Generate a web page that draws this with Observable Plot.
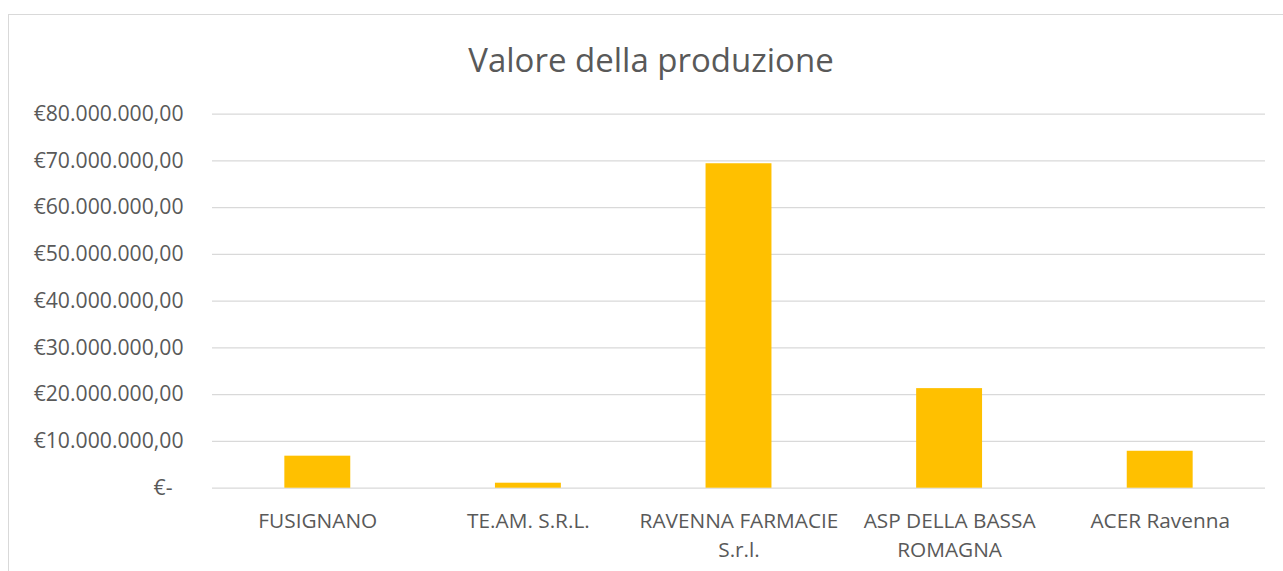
<!DOCTYPE html>
<html>
<head>
<meta charset="utf-8">
<script src="https://cdn.jsdelivr.net/npm/d3@7"></script>
<script src="https://cdn.jsdelivr.net/npm/@observablehq/plot@0.6"></script>
<style>
  html, body { margin: 0; padding: 0; background: #fff; }
  body { width: 1283px; height: 571px; position: relative; overflow: hidden; font-family: "Open Sans", sans-serif; }
  #frame { position: absolute; left: 8px; top: 14px; width: 1400px; height: 700px; border-left: 1.5px solid #d9d9d9; border-top: 1.5px solid #d9d9d9; box-sizing: border-box; }
  #title { position: absolute; left: 351px; width: 600px; top: 42.5px; text-align: center; font-size: 33px; line-height: 33px; color: #595959; white-space: nowrap; }
  #chart { position: absolute; left: 0; top: 0; }
</style>
</head>
<body>
<div id="frame"></div>
<div id="chart"></div>
<div id="title">Valore della produzione</div>
<script>
const categories = ["FUSIGNANO", "TE.AM. S.R.L.", "RAVENNA FARMACIE S.r.l.", "ASP DELLA BASSA ROMAGNA", "ACER Ravenna"];
const values = [6850000, 1070000, 69400000, 21300000, 7900000];
const yTicks = [0, 10000000, 20000000, 30000000, 40000000, 50000000, 60000000, 70000000, 80000000];

const data = categories.map((c, i) => ({category: c, value: values[i]}));

const locale = d3.formatLocale({decimal: ",", thousands: ".", grouping: [3], currency: ["€", ""]});
const fmt = locale.format("$,.2f");
const yFormat = d => d === 0 ? "€-\u00a0\u00a0" : fmt(d);
const xFormat = d => d.replace(/ (S\.r\.l\.|ROMAGNA)$/, "\n$1");

const chart = Plot.plot({
  width: 1283,
  height: 571,
  marginLeft: 212,
  marginRight: 18,
  marginTop: 113.7,
  marginBottom: 83.3,
  style: {fontFamily: "'Open Sans', sans-serif", color: "#595959", background: "transparent"},
  x: {domain: categories, paddingInner: 0.687, paddingOuter: 0.3435, round: false, label: null},
  y: {domain: [0, 80000000], label: null},
  marks: [
    Plot.ruleY(yTicks, {stroke: "#d9d9d9", strokeWidth: 1.2, strokeOpacity: 1}),
    Plot.barY(data, {x: "category", y: "value", fill: "#FFC000"}),
    Plot.axisY({ticks: yTicks, tickFormat: yFormat, tickSize: 0, tickPadding: 29, fontSize: 21.2, fill: "#595959"}),
    Plot.axisX({tickFormat: xFormat, tickSize: 0, tickPadding: 19, fontSize: 20.8, lineHeight: 1.4, fill: "#595959"})
  ]
});
document.getElementById("chart").appendChild(chart);
</script>
</body>
</html>
